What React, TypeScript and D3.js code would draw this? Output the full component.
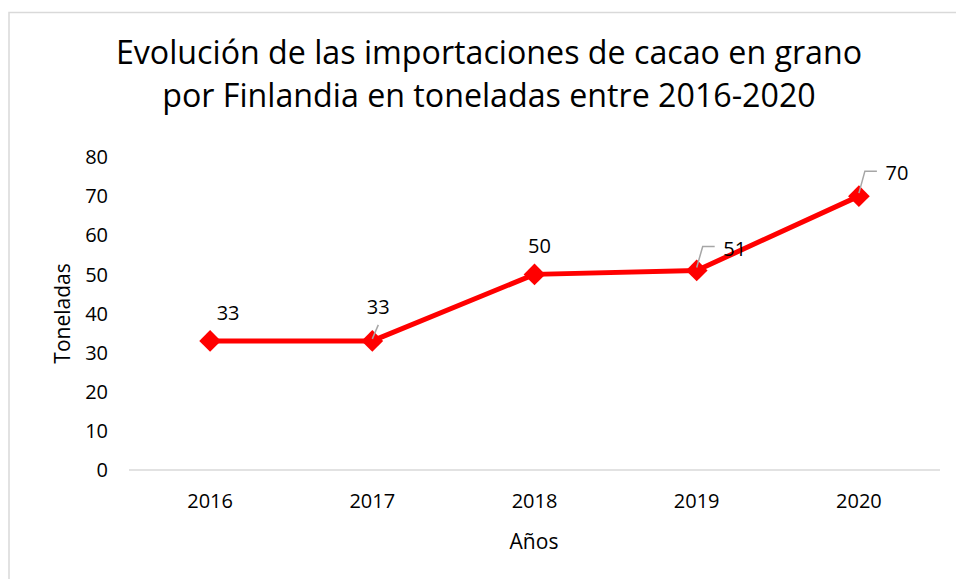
import React from 'react';
import * as d3 from 'd3';

// chart data
const years = ['2016', '2017', '2018', '2019', '2020'];
const toneladas = [33, 33, 50, 51, 70];
const yTicks = [0, 10, 20, 30, 40, 50, 60, 70, 80];

// where each data label sits relative to its point (Excel moved some by hand)
const labelOffsets = [
  { dx: 18, dy: -28, leader: false },
  { dx: 6, dy: -34, leader: true },
  { dx: 5, dy: -29, leader: false },
  { dx: 38, dy: -22, leader: true },
  { dx: 38, dy: -23, leader: true },
];

const W = 956;
const H = 579;
const FONT = '"Open Sans", Calibri, sans-serif';

const App = () => {
  const x = d3.scaleBand().domain(years).range([129, 940]);
  const y = d3.scaleLinear().domain([0, 80]).range([470, 157]);
  const cx = (d: string) => (x(d) as number) + x.bandwidth() / 2;

  const line = d3
    .line<number>()
    .x((_, i) => cx(years[i]))
    .y((d) => y(d));

  const diamond = d3.symbol().type(d3.symbolDiamond2).size(300)();

  return (
    <svg
      width={W}
      height={H}
      style={{ position: 'absolute', left: 0, top: 0, background: '#fff' }}
      fontFamily={FONT}
    >
      <rect x={9} y={12.5} width={980} height={600} fill="#fff" stroke="#d9d9d9" strokeWidth={1.5} />

      {/* title */}
      <text x={489} y={64} textAnchor="middle" fontSize={32.2} fill="#000">
        Evolución de las importaciones de cacao en grano
      </text>
      <text x={489} y={107} textAnchor="middle" fontSize={32.2} fill="#000">
        por Finlandia en toneladas entre 2016-2020
      </text>

      {/* y tick labels */}
      {yTicks.map((t) => (
        <text key={t} x={108} y={y(t)} dy="0.36em" textAnchor="end" fontSize={20} fill="#000">
          {t}
        </text>
      ))}

      {/* x axis */}
      <line x1={129} x2={940} y1={y(0)} y2={y(0)} stroke="#d9d9d9" strokeWidth={1.5} />
      {years.map((yr) => (
        <text key={yr} x={cx(yr)} y={y(0) + 31} dy="0.36em" textAnchor="middle" fontSize={20} fill="#000">
          {yr}
        </text>
      ))}

      {/* axis titles */}
      <text x={534} y={541} dy="0.36em" textAnchor="middle" fontSize={21} fill="#000">
        Años
      </text>
      <text
        transform={`translate(62,${(y(0) + y(80)) / 2}) rotate(-90)`}
        dy="0.36em"
        textAnchor="middle"
        fontSize={21}
        fill="#000"
      >
        Toneladas
      </text>

      {/* series */}
      <path d={line(toneladas) || ''} fill="none" stroke="#ff0000" strokeWidth={5} strokeLinejoin="round" />
      {toneladas.map((v, i) => (
        <path key={i} d={diamond || ''} transform={`translate(${cx(years[i])},${y(v)})`} fill="#ff0000" />
      ))}

      {/* data labels */}
      {toneladas.map((v, i) => {
        const px = cx(years[i]);
        const py = y(v);
        const o = labelOffsets[i];
        const lx = px + o.dx;
        const ly = py + o.dy;
        let leader = null;
        if (o.leader) {
          if (o.dx > 20) {
            leader = (
              <polyline
                points={`${px},${py - 3} ${px + 6},${ly - 2} ${px + 18},${ly - 2}`}
                fill="none"
                stroke="#a6a6a6"
                strokeWidth={1.5}
              />
            );
          } else {
            leader = (
              <line x1={px} y1={py - 2} x2={px + 6} y2={py - 16} stroke="#a6a6a6" strokeWidth={1.5} />
            );
          }
        }
        return (
          <g key={i}>
            {leader}
            <text x={lx} y={ly} dy="0.36em" textAnchor="middle" fontSize={20} fill="#000">
              {v}
            </text>
          </g>
        );
      })}
    </svg>
  );
};

export default App;
